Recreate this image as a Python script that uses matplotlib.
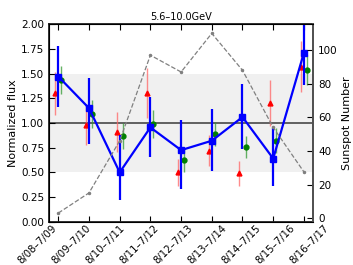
import numpy as np
import matplotlib
matplotlib.use("Agg")
import matplotlib.pyplot as plt
import matplotlib.transforms as mtransforms

# periodi e dati
periods = ["8/08–7/09", "8/09–7/10", "8/10–7/11", "8/11–7/12", "8/12–7/13",
           "8/13–7/14", "8/14–7/15", "8/15–7/16", "8/16–7/17"]

blue_flux = [1.47, 1.15, 0.50, 0.955, 0.725, 0.82, 1.06, 0.64, 1.71]
blue_err_lo = [0.31, 0.36, 0.28, 0.30, 0.39, 0.31, 0.32, 0.28, 0.33]
blue_err_hi = [0.31, 0.30, 0.38, 0.31, 0.31, 0.32, 0.33, 0.31, 0.40]

red_flux = [1.30, 0.98, 0.91, 1.305, 0.50, 0.72, 0.49, 1.20, 1.57]
red_err = [0.22, 0.20, 0.20, 0.25, 0.14, 0.16, 0.13, 0.23, 0.26]

green_flux = [1.435, 1.09, 0.867, 0.99, 0.625, 0.885, 0.76, 0.82, 1.535]
green_err = [0.14, 0.14, 0.13, 0.14, 0.12, 0.12, 0.11, 0.125, 0.15]

sunspot = [3, 15, 46, 97, 87, 110, 88, 54, 27.5]

x = np.arange(len(periods))

fig = plt.figure(figsize=(3.53, 2.65), dpi=100)
ax1 = fig.add_axes([0.139, 0.163, 0.748, 0.746])

ax1.axhspan(0.5, 1.5, color="#f0f0f0", zorder=0, lw=0)
ax1.axhline(1.0, color="#555555", lw=1.3, zorder=1)

ax1.errorbar(x - 0.1, red_flux, yerr=red_err, fmt="^", color="red", ms=3.5,
             elinewidth=1.0, ecolor=(1, 0.4, 0.4, 0.75), capsize=0, zorder=3)
ax1.errorbar(x + 0.1, green_flux, yerr=green_err, fmt="o", color="green", ms=3.5,
             elinewidth=1.0, ecolor=(0.2, 0.6, 0.2, 0.75), capsize=0, zorder=3)
ax1.errorbar(x, blue_flux, yerr=[blue_err_lo, blue_err_hi], fmt="s-", color="blue",
             ms=4.5, lw=1.6, elinewidth=1.6, capsize=0, zorder=4)

ax1.set_xlim(-0.3, 8.3)
ax1.set_ylim(0, 2.0)
ax1.set_yticks([0, 0.25, 0.5, 0.75, 1.0, 1.25, 1.5, 1.75, 2.0])
ax1.set_yticklabels([f"{v:.2f}" for v in ax1.get_yticks()])
ax1.set_xticks(x)
ax1.set_xticklabels(periods, rotation=45, ha="right")
ax1.tick_params(axis="both", direction="in", labelsize=7.5, top=True, length=4)
ax1.tick_params(axis="x", labelsize=7.3, pad=1)
# le etichette nell'originale sono leggermente più spaziate dei tick
for i, lab in enumerate(ax1.get_xticklabels()):
    shift = mtransforms.ScaledTranslation(i * 3.3 / 100, 0, fig.dpi_scale_trans)
    lab.set_transform(lab.get_transform() + shift)
ax1.set_ylabel("Normalized flux", fontsize=8, labelpad=2)
ax1.set_title("5.6–10.0GeV", fontsize=7, pad=3)
for s in ax1.spines.values():
    s.set_linewidth(1.3)
    s.set_color("#222222")

ax2 = ax1.twinx()
ax2.plot(x, sunspot, "--", color="gray", lw=0.9, marker=".", ms=3)
ax2.set_ylim(-2.2, 115.5)
ax2.set_yticks([0, 20, 40, 60, 80, 100])
ax2.tick_params(axis="y", direction="in", labelsize=7.5, length=4)
ax2.set_ylabel("Sunspot Number", fontsize=8, labelpad=3)
ax2.spines["right"].set_color("#555555")
ax2.spines["right"].set_linewidth(1.3)

plt.savefig("out.png", dpi=100)
plt.close()
